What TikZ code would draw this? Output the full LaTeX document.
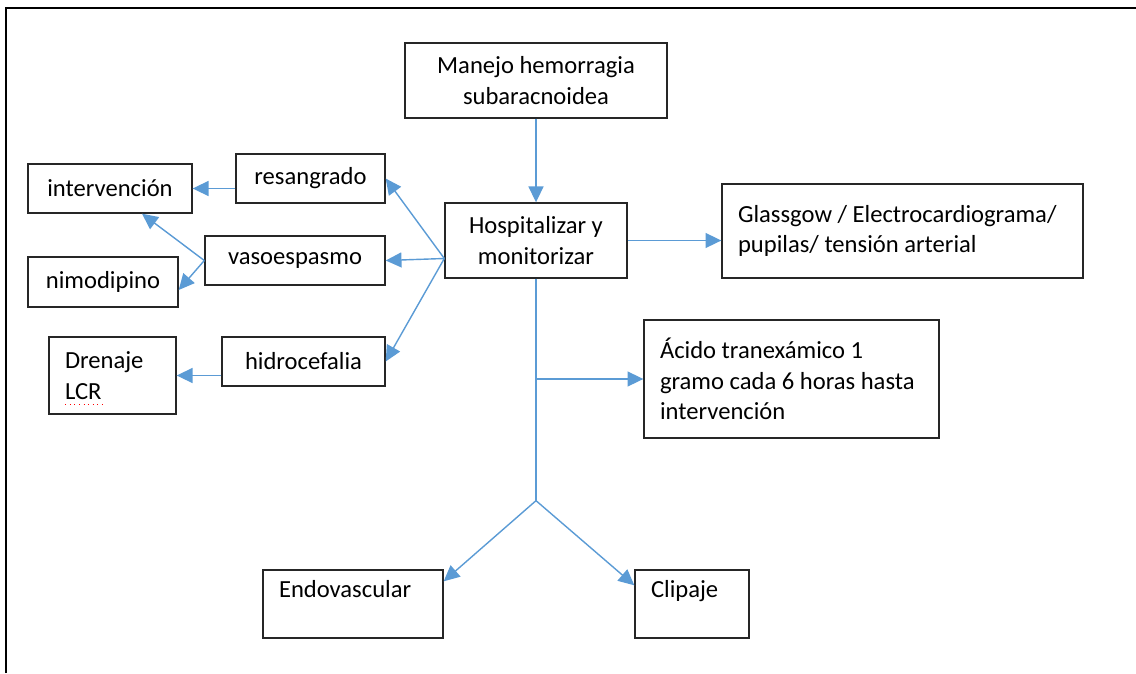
\documentclass[tikz,border=0pt]{standalone}
\usepackage{fontspec}
\setmainfont{Carlito}
\usepackage{xcolor}
\usetikzlibrary{arrows.meta}
\definecolor{azul}{RGB}{91,155,213}

\begin{document}
\begin{tikzpicture}[x=0.02cm,y=-0.02cm,
  font=\fontsize{14}{17.5}\selectfont,
  box/.style={draw=black!85,line width=0.8pt,inner sep=0pt,align=center},
  lbox/.style={box,align=flush left,inner xsep=0.32cm},
  flecha/.style={draw=azul,line width=0.8pt,-{Triangle[length=9pt,width=8.5pt]}}]
\useasboundingbox (0,0) rectangle (1136,673);
\draw[line width=1.4pt] (6,673) -- (6,8) -- (1136,8);

\node[box,minimum width=5.24cm,minimum height=1.5cm] (manejo) at (536,80.5) {Manejo hemorragia\\subaracnoidea};
\node[box,minimum width=3.64cm,minimum height=1.5cm] (hosp) at (536,240.5) {Hospitalizar y\\monitorizar};
\node[lbox,text width=6.58cm,minimum height=1.88cm] (glas) at (902.5,231) {Glassgow / Electrocardiograma/\\pupilas/ tensión arterial};
\node[lbox,text width=5.26cm,minimum height=2.36cm] (acido) at (791.5,379) {Ácido tranexámico 1\\gramo cada 6 horas hasta\\intervención};
\node[box,minimum width=2.98cm,minimum height=0.98cm] (resang) at (310.5,178.5) {resangrado};
\node[box,minimum width=3.28cm,minimum height=0.98cm] (interv) at (110,188.5) {intervención};
\node[box,minimum width=3.6cm,minimum height=0.98cm] (vaso) at (295,260.5) {vasoespasmo};
\node[box,minimum width=3cm,minimum height=1cm] (nimo) at (103,282) {nimodipino};
\node[box,minimum width=3.26cm,minimum height=0.98cm] (hidro) at (303.5,361.5) {hidrocefalia};
\node[lbox,text width=1.9cm,minimum height=1.54cm] (dren) at (112.5,375.5) {Drenaje\\LCR};
\node[lbox,text width=2.96cm,minimum height=1.36cm] (endo) at (353,604) {Endovascular\\\mbox{}};
\node[lbox,text width=1.64cm,minimum height=1.36cm] (clip) at (692,604) {Clipaje\\\mbox{}};

\coordinate (hl) at ([yshift=-0.36cm]hosp.west);
\coordinate (split) at ([yshift=-4.44cm]hosp.south);

\draw[flecha] (manejo) -- (hosp);
\draw[flecha] (hl) -- (resang.east);
\draw[flecha] (hl) -- (vaso.east);
\draw[flecha] (hl) -- (hidro.east);
\draw[flecha] (hosp.east) -- (hosp.east -| glas.west);
\draw[flecha] (interv.east -| resang.west) -- (interv.east);
\draw[flecha] (vaso.west) -- ([xshift=0.64cm]interv.south);
\draw[flecha] (vaso.west) -- ([yshift=-0.16cm]nimo.east);
\draw[flecha] (dren.east -| hidro.west) -- (dren.east);
\draw[azul,line width=0.8pt] (hosp.south) -- (split);
\draw[flecha] (hosp.south |- acido.west) -- (acido.west);
\draw[flecha] (split) -- ([yshift=-0.24cm]endo.north east);
\draw[flecha] (split) -- ([yshift=-0.32cm]clip.north west);

\draw[red,dotted,line width=0.6pt] ([xshift=0.34cm,yshift=0.2cm]dren.south west) -- ++(0.74cm,0);
\end{tikzpicture}
\end{document}
